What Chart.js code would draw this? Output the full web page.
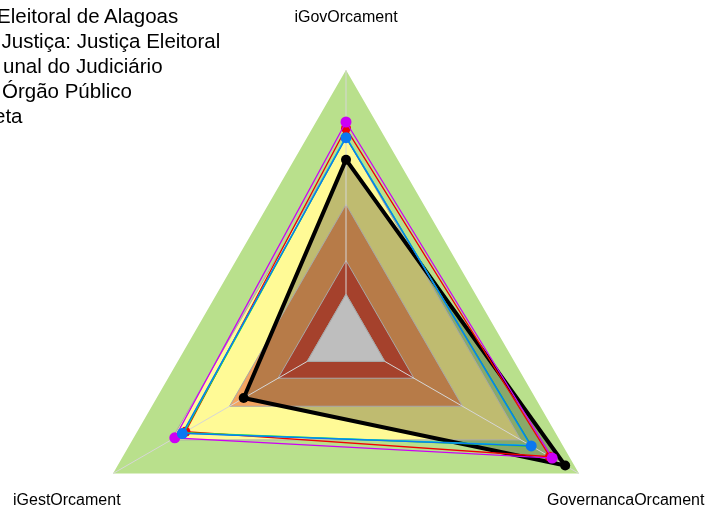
<!DOCTYPE html>
<html>
<head>
<meta charset="utf-8">
<script src="https://cdn.jsdelivr.net/npm/chart.js@4.4.1/dist/chart.umd.min.js"></script>
<style>
html, body { margin: 0; padding: 0; width: 708px; height: 511px; overflow: hidden; background: #fff;
  font-family: "Liberation Sans", Arial, sans-serif; color: #000; }
#wrap { position: absolute; left: 0; top: 0; width: 708px; height: 620px; }
.lbl { position: absolute; font-size: 16px; line-height: 16px; white-space: nowrap; }
#legend { position: absolute; left: 0; top: 3px; font-size: 20.5px; line-height: 25px; white-space: nowrap; }
#legend div { position: relative; }
</style>
</head>
<body>
<div id="wrap"><canvas id="chart" width="708" height="620"></canvas></div>
<div id="legend"></div>
<div class="lbl" id="lbl0" style="left:346px; top:9px; transform:translateX(-50%)"></div>
<div class="lbl" id="lbl1" style="left:547px; top:492px"></div>
<div class="lbl" id="lbl2" style="left:13px; top:492px"></div>
<script>
// eixos (topo, depois sentido horario)
const axes = ['iGovOrcament', 'GovernancaOrcament', 'iGestOrcament']
const legendLines = ['Eleitoral de Alagoas', 'Justiça: Justiça Eleitoral', 'unal do Judiciário', 'Órgão Público', 'eta']
const legendShift = [-3, 1.5, 3, 2, -6]  // a legenda sai cortada pela borda esquerda

// faixas de fundo: limite externo de cada faixa
const scaleMin = -0.2
const bandEdges = [1.0, 0.7, 0.4, 0.15]
const bandColors = ['#B9E08C', '#FFFA96', '#F4A460', '#DC573B']
const centerEdge = 0
const centerColor = '#BEBEBE'
const gridTicks = [-0.2, 0, 0.15, 0.4, 0.7, 1.0]

// series, na ordem dos eixos
const magenta = [0.768, 0.862, 0.682]
const red     = [0.740, 0.850, 0.627]
const green   = [0.700, 0.757, 0.635]
const cyan    = [0.703, 0.750, 0.640]
const blue    = [0.698, 0.754, 0.643]
const meta    = [0.600, 0.929, 0.327]

document.getElementById('legend').innerHTML =
  legendLines.map((t, i) => `<div style="left:${legendShift[i]}px">${t}</div>`).join('')
axes.forEach((a, i) => { document.getElementById('lbl' + i).textContent = a })

const bandSets = bandEdges.map((edge, i) => ({
  label: 'faixa ' + edge,
  data: axes.map(() => edge),
  backgroundColor: bandColors[i],
  borderColor: 'rgba(0,0,0,0)',
  borderWidth: 0,
  pointRadius: 0,
  fill: 'start',
  order: 100 - i,
}))

const serie = (label, data, color, order, opts = {}) => ({
  label, data, order,
  borderColor: color,
  borderWidth: 1.3,
  pointRadius: 5,
  pointBorderWidth: 0,
  pointBackgroundColor: color,
  fill: false,
  ...opts,
})

// miolo cinza por cima das linhas dos eixos
const centerPlugin = {
  id: 'center',
  beforeDatasetsDraw(chart) {
    const r = chart.scales.r
    const c = chart.ctx
    c.save()
    c.beginPath()
    axes.forEach((_, i) => {
      const p = r.getPointPositionForValue(i, centerEdge)
      i ? c.lineTo(p.x, p.y) : c.moveTo(p.x, p.y)
    })
    c.closePath()
    c.fillStyle = centerColor
    c.fill()
    c.strokeStyle = '#A8A8A8'
    c.lineWidth = 1
    c.stroke()
    c.restore()
  }
}

const ctx = document.getElementById('chart')
let chart = new Chart(ctx, {
  type: 'radar',
  data: {
    labels: axes,
    datasets: [
      ...bandSets,
      serie('meta', meta, '#000000', 10, { borderWidth: 4, pointRadius: 5, fill: 'start', backgroundColor: 'rgba(0,0,0,0.25)' }),
      serie('red', red, '#F00000', 6),
      serie('green', green, '#22DD22', 5, { pointRadius: 0 }),
      serie('cyan', cyan, '#00C8D8', 4, { pointRadius: 0 }),
      serie('magenta', magenta, '#CC00F5', 3, { pointRadius: 5.5 }),
      serie('blue', blue, '#0A78F0', 2, { pointRadius: 5.5 }),
    ]
  },
  plugins: [centerPlugin],
  options: {
    responsive: false,
    animation: false,
    layout: { padding: { left: 77, right: 93, top: 70, bottom: 12 } },
    plugins: {
      legend: { display: false },
      tooltip: { enabled: false },
      filler: { drawTime: 'beforeDraw' },
    },
    elements: { line: { tension: 0 } },
    scales: {
      r: {
        min: scaleMin,
        max: 1,
        ticks: { display: false },
        pointLabels: { display: false },
        grid: {
          circular: false,
          lineWidth: 1,
          color: c => c.tick && c.tick.value === 1 ? 'rgba(0,0,0,0)' : '#A8A8A8',
        },
        angleLines: { color: '#D6D6D6', lineWidth: 1 },
        afterBuildTicks: axis => { axis.ticks = gridTicks.map(v => ({ value: v })) },
      }
    }
  }
})
</script>
</body>
</html>
